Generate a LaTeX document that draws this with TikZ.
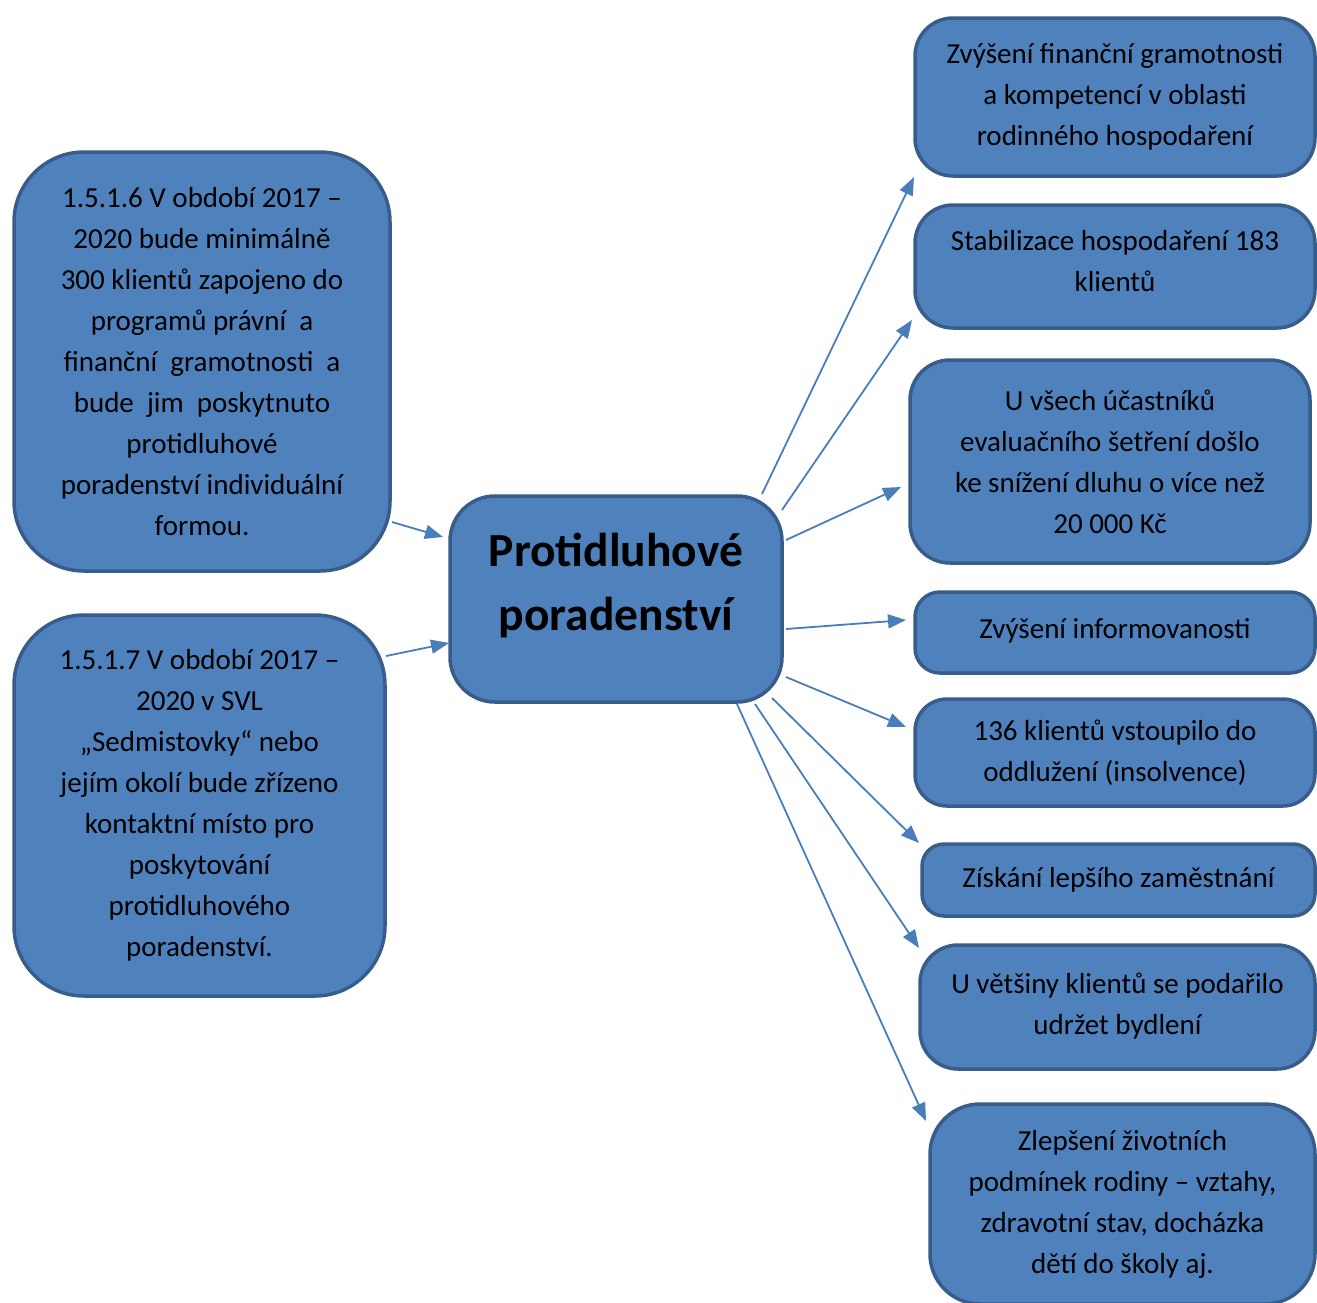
\documentclass[tikz,border=0pt]{standalone}
\usepackage{fontspec}
\setmainfont{Carlito}
\usetikzlibrary{arrows.meta}
\definecolor{boxfill}{HTML}{4F81BD}
\definecolor{boxline}{HTML}{385D8A}
\definecolor{arrowc}{HTML}{4A7EBB}
\begin{document}
\begin{tikzpicture}[x=1pt,y=-1pt,
  box/.style={draw=boxline, fill=boxfill, line width=3.5pt, inner sep=0pt, align=center,
    font=\fontsize{29}{41}\selectfont},
  link/.style={draw=arrowc, line width=1.8pt, -{Triangle[length=18pt,width=14pt]}}]
\useasboundingbox (0,0) rectangle (1317,1302);
\clip (0,0) rectangle (1317,1302);

% left boxes
\node[box, rounded corners=70pt, minimum width=376pt, minimum height=419pt] (l1) at (202,361.5)
 {1.5.1.6 V období 2017 –\\2020 bude minimálně\\300 klientů zapojeno do\\programů právní\ \ a\\finanční\ \ gramotnosti\ \ a\\bude\ \ jim\ \ poskytnuto\\protidluhové\\poradenství individuální\\formou.};
\node[box, rounded corners=70pt, minimum width=371pt, minimum height=381pt] (l2) at (199.5,805.5)
 {1.5.1.7 V období 2017 –\\2020 v SVL\\„Sedmistovky“ nebo\\jejím okolí bude zřízeno\\kontaktní místo pro\\poskytování\\protidluhového\\poradenství.};

% center
\node[box, rounded corners=45pt, minimum width=332pt, minimum height=206pt,
  font=\fontsize{47.5}{64}\selectfont\bfseries, text=black] (c) at (616,599)
 {Protidluhové\\poradenství\\[-30pt]\mbox{}};

% right boxes
\node[box, rounded corners=38pt, minimum width=400pt, minimum height=158pt] (r1) at (1115,97)
 {Zvýšení finanční gramotnosti\\a kompetencí v oblasti\\rodinného hospodaření};
\node[box, rounded corners=38pt, minimum width=400pt, minimum height=123pt] (r2) at (1115,266.5)
 {Stabilizace hospodaření 183\\klientů\\[-30pt]\mbox{}};
\node[box, rounded corners=40pt, minimum width=400pt, minimum height=203pt] (r3) at (1110,461.5)
 {U všech účastníků\\evaluačního šetření došlo\\ke snížení dluhu o více než\\20 000 Kč};
\node[box, rounded corners=25pt, minimum width=400pt, minimum height=81pt] (r4) at (1115,632.5)
 {Zvýšení informovanosti\\[-33pt]\mbox{}};
\node[box, rounded corners=32pt, minimum width=400pt, minimum height=107pt] (r5) at (1115,752.5)
 {136 klientů vstoupilo do\\oddlužení (insolvence)};
\node[box, rounded corners=22pt, minimum width=393pt, minimum height=72pt] (r6) at (1118.5,880)
 {Získání lepšího zaměstnání};
\node[box, rounded corners=38pt, minimum width=395pt, minimum height=124pt] (r7) at (1117.5,1007)
 {U většiny klientů se podařilo\\udržet bydlení\\[-35pt]\mbox{}};
\node[box, rounded corners=50pt, minimum width=385pt, minimum height=200pt] (r8) at (1122.5,1204)
 {Zlepšení životních\\podmínek rodiny – vztahy,\\zdravotní stav, docházka\\dětí do školy aj.};

% arrow endpoints
\coordinate (a1s) at (392,522);  \coordinate (a1e) at (443,537);
\coordinate (a2s) at (386,656);  \coordinate (a2e) at (449,643);
\coordinate (b1s) at (762,494);  \coordinate (b1e) at (914,177);
\coordinate (b2s) at (782,510);  \coordinate (b2e) at (912,320);
\coordinate (b3s) at (786,540);  \coordinate (b3e) at (901,487);
\coordinate (b4s) at (786,629);  \coordinate (b4e) at (906,620);
\coordinate (b5s) at (786,677);  \coordinate (b5e) at (906,727);
\coordinate (b6s) at (772,698);  \coordinate (b6e) at (919,843);
\coordinate (b7s) at (755,704);  \coordinate (b7e) at (919,948);
\coordinate (b8s) at (737,704);  \coordinate (b8e) at (926,1121);

\draw[link] (a1s) -- (a1e);
\draw[link] (a2s) -- (a2e);
\draw[link] (b1s) -- (b1e);
\draw[link] (b2s) -- (b2e);
\draw[link] (b3s) -- (b3e);
\draw[link] (b4s) -- (b4e);
\draw[link] (b5s) -- (b5e);
\draw[link] (b6s) -- (b6e);
\draw[link] (b7s) -- (b7e);
\draw[link] (b8s) -- (b8e);
\end{tikzpicture}
\end{document}
